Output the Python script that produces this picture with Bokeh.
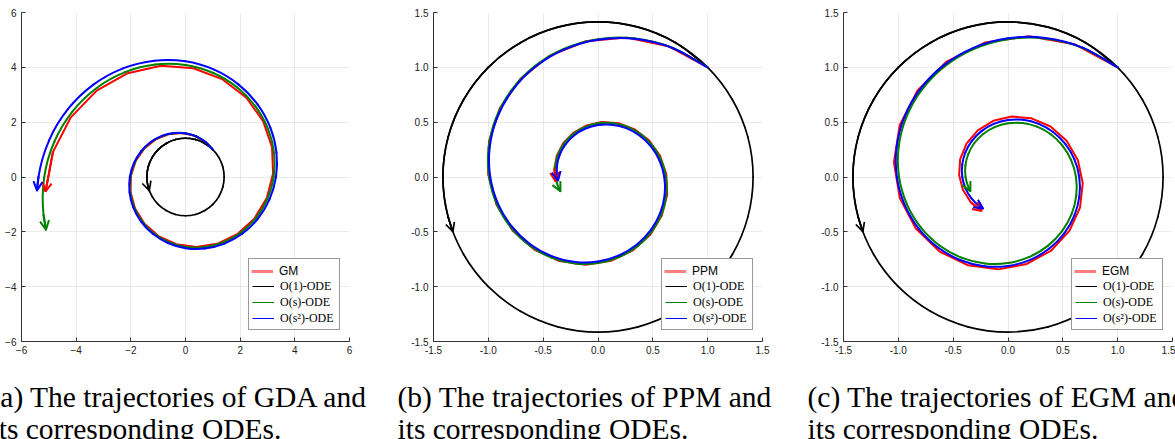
import numpy as np
from bokeh.plotting import figure
from bokeh.layouts import row, column
from bokeh.models import (Range1d, Legend, LegendItem, Arrow, OpenHead,
                          FixedTicker, PrintfTickFormatter)
from bokeh.core.properties import value
from bokeh.embed import file_html
from bokeh.resources import INLINE

# ---------------- data: trajectories in polar form (angle in degrees, radius) ----------------
# discrete iterates (GM / PPM share the same angles)
disc_ang = [45.0, 61.70, 78.40, 95.10, 111.80, 128.50, 145.20, 161.89, 178.59, 195.29, 211.99,
            228.69, 245.39, 262.09, 278.79, 295.49, 312.19, 328.89, 345.59, 362.29, 378.98,
            395.68, 412.38, 429.08, 445.78, 462.48, 479.18, 495.88, 512.58, 529.28, 545.98]
gm_r = [1.4142, 1.4765, 1.5415, 1.6094, 1.6802, 1.7542, 1.8314, 1.9121, 1.9963, 2.0842, 2.1759,
        2.2718, 2.3718, 2.4762, 2.5852, 2.6991, 2.8179, 2.9420, 3.0715, 3.2068, 3.3480,
        3.4954, 3.6493, 3.8100, 3.9777, 4.1529, 4.3357, 4.5266, 4.7259, 4.9340, 5.1512]
ppm_r = [1.4142, 1.3546, 1.2974, 1.2427, 1.1903, 1.1401, 1.0920, 1.0460, 1.0019, 0.9596, 0.9191,
         0.8804, 0.8433, 0.8077, 0.7736, 0.7410, 0.7097, 0.6798, 0.6511, 0.6237, 0.5974,
         0.5722, 0.5481, 0.5249, 0.5028, 0.4816, 0.4613, 0.4418, 0.4232, 0.4054, 0.3883]
egm_ang = [45.0, 63.25, 81.49, 99.74, 117.98, 136.23, 154.48, 172.72, 190.97, 209.21, 227.46,
           245.70, 263.95, 282.20, 300.44, 318.69, 336.93, 355.18, 373.43, 391.67, 409.92,
           428.16, 446.41, 464.66, 482.90, 501.15, 519.39, 537.64, 555.89, 574.13, 592.38]
egm_r = [1.4142, 1.3551, 1.2984, 1.2441, 1.1921, 1.1422, 1.0944, 1.0487, 1.0048, 0.9628, 0.9225,
         0.8839, 0.8469, 0.8115, 0.7776, 0.7451, 0.7139, 0.6840, 0.6554, 0.6280, 0.6018,
         0.5766, 0.5525, 0.5294, 0.5072, 0.4860, 0.4657, 0.4462, 0.4275, 0.4097, 0.3925]

# ODE curves (smooth)
ode_ang_a = [45, 60, 75, 90, 105, 120, 135, 150, 165, 180, 195, 210, 225, 240, 255, 270, 285,
             300, 315, 330, 345, 360, 375, 390, 405, 420, 435, 450, 465, 480, 495, 510, 525,
             540, 555, 560.66]
o1_radius = 1.4142
gda_os_r = [1.4142, 1.4709, 1.5298, 1.5910, 1.6548, 1.7210, 1.7900, 1.8616, 1.9362, 2.0138,
            2.0944, 2.1783, 2.2655, 2.3563, 2.4506, 2.5488, 2.6509, 2.7571, 2.8675, 2.9823,
            3.1018, 3.2260, 3.3552, 3.4896, 3.6293, 3.7747, 3.9259, 4.0831, 4.2467, 4.4167,
            4.5936, 4.7776, 4.9690, 5.1680, 5.3750, 5.4552]
ppm_os_r = [1.4142, 1.3598, 1.3074, 1.2570, 1.2086, 1.1621, 1.1173, 1.0743, 1.0329, 0.9932,
            0.9549, 0.9182, 0.8828, 0.8488, 0.8161, 0.7847, 0.7545, 0.7254, 0.6975, 0.6706,
            0.6448, 0.6200, 0.5961, 0.5731, 0.5511, 0.5298, 0.5094, 0.4898, 0.4710, 0.4528,
            0.4354, 0.4186, 0.4025, 0.3870, 0.3721, 0.3666]
ode_ang_b = [45, 60, 75, 90, 105, 120, 135, 150, 165, 180, 195, 210, 225, 240, 255, 270, 285,
             300, 315, 330, 345, 360, 375, 390, 405, 420, 435, 450, 465, 480, 495, 510, 525,
             540, 545.19]
gda_os2_r = [1.4142, 1.4726, 1.5335, 1.5968, 1.6628, 1.7315, 1.8030, 1.8775, 1.9551, 2.0359,
             2.1200, 2.2076, 2.2988, 2.3938, 2.4927, 2.5957, 2.7029, 2.8146, 2.9309, 3.0519,
             3.1780, 3.3093, 3.4461, 3.5884, 3.7367, 3.8911, 4.0518, 4.2192, 4.3935, 4.5751,
             4.7641, 4.9609, 5.1659, 5.3793, 5.4552]
ppm_os2_r = [1.4142, 1.3581, 1.3042, 1.2525, 1.2028, 1.1551, 1.1092, 1.0652, 1.0230, 0.9824,
             0.9434, 0.9060, 0.8700, 0.8355, 0.8024, 0.7705, 0.7399, 0.7106, 0.6824, 0.6553,
             0.6293, 0.6044, 0.5804, 0.5573, 0.5352, 0.5140, 0.4936, 0.4740, 0.4552, 0.4372,
             0.4198, 0.4032, 0.3872, 0.3718, 0.3666]
ode_ang_c = [45, 60, 75, 90, 105, 120, 135, 150, 165, 180, 195, 210, 225, 240, 255, 270, 285,
             300, 315, 330, 345, 360, 375, 390, 405, 420, 435, 450, 465, 480, 495, 510, 525,
             540, 555, 570, 585, 591.60]
egm_os2_r = [1.4142, 1.3628, 1.3132, 1.2655, 1.2194, 1.1751, 1.1323, 1.0912, 1.0515, 1.0132,
             0.9764, 0.9409, 0.9067, 0.8737, 0.8419, 0.8113, 0.7818, 0.7533, 0.7260, 0.6995,
             0.6741, 0.6496, 0.6260, 0.6032, 0.5813, 0.5601, 0.5398, 0.5201, 0.5012, 0.4830,
             0.4654, 0.4485, 0.4322, 0.4165, 0.4013, 0.3867, 0.3727, 0.3666]

method_names = ["GM", "PPM", "EGM"]
ode_labels = ["O(1)-ODE", "O(s)-ODE", "O(s\u00b2)-ODE"]
ticks_a = [-6, -4, -2, 0, 2, 4, 6]
ticks_bc = [-1.5, -1.0, -0.5, 0.0, 0.5, 1.0, 1.5]
captions_1 = ["(a) The trajectories of GDA and", "(b) The trajectories of PPM and",
              "(c) The trajectories of EGM and"]
captions_2 = ["its corresponding ODEs.", "its corresponding ODEs.", "its corresponding ODEs."]


def to_xy(ang, rad):
    a = np.deg2rad(np.asarray(ang, dtype=float))
    r = np.asarray(rad, dtype=float) * np.ones_like(a)
    return a, r * np.cos(a), r * np.sin(a)


def smooth_segments(u, xs, ys):
    """Cubic (Hermite -> Bezier) segments through the sample points, parameterised by angle."""
    P = np.column_stack([xs, ys])
    n = len(P)
    m = np.zeros_like(P)
    m[0] = (P[1] - P[0]) / (u[1] - u[0])
    m[-1] = (P[-1] - P[-2]) / (u[-1] - u[-2])
    for i in range(1, n - 1):
        h0, h1 = u[i] - u[i - 1], u[i + 1] - u[i]
        d0, d1 = (P[i] - P[i - 1]) / h0, (P[i + 1] - P[i]) / h1
        m[i] = (d0 * h1 + d1 * h0) / (h0 + h1)
    h = (u[1:] - u[:-1])[:, None]
    c0 = P[:-1] + m[:-1] * h / 3
    c1 = P[1:] - m[1:] * h / 3
    return dict(x0=P[:-1, 0], y0=P[:-1, 1], x1=P[1:, 0], y1=P[1:, 1],
                cx0=c0[:, 0], cy0=c0[:, 1], cx1=c1[:, 0], cy1=c1[:, 1])


AX = "#333333"


def make_panel(width, bl, br, lim, ticks, fmt, name, curves):
    frame_w = width - bl - br
    p = figure(width=width, height=368, x_range=Range1d(-lim, lim), y_range=Range1d(-lim, lim),
               output_backend="svg", toolbar_location=None,
               min_border_left=bl, min_border_right=br, min_border_top=12, min_border_bottom=27)
    p.outline_line_color = None
    p.background_fill_color = "white"
    p.border_fill_color = "white"
    tx = FixedTicker(ticks=ticks)
    ty = FixedTicker(ticks=ticks)
    p.xaxis.ticker = tx
    p.yaxis.ticker = ty
    p.xgrid.ticker = tx
    p.ygrid.ticker = ty
    if fmt is not None:
        p.xaxis.formatter = PrintfTickFormatter(format=fmt)
        p.yaxis.formatter = PrintfTickFormatter(format=fmt)
    for ax in (p.xaxis, p.yaxis):
        ax.axis_line_color = AX
        ax.axis_line_width = 1
        ax.major_tick_line_color = AX
        ax.major_tick_in = 4
        ax.major_tick_out = 0
        ax.minor_tick_line_color = None
        ax.major_label_text_font = "Liberation Sans"
        ax.major_label_text_font_size = "10px"
        ax.major_label_text_color = "#222222"
    p.xaxis.major_label_standoff = 4
    p.yaxis.major_label_standoff = 5
    p.grid.grid_line_color = "black"
    p.grid.grid_line_alpha = 0.08
    p.grid.grid_line_width = 1

    for kind, (u, xs, ys), c, w in curves:
        if kind == "discrete":
            p.line(xs, ys, line_color=c, line_width=w, line_join="round")
        else:
            p.bezier(line_color=c, line_width=w, line_cap="round",
                     **smooth_segments(u, xs, ys))
    for kind, (u, xs, ys), c, w in curves:
        p.add_layout(Arrow(end=OpenHead(size=9, line_color=c, line_width=w),
                           x_start=float(xs[-2]), y_start=float(ys[-2]),
                           x_end=float(xs[-1]), y_end=float(ys[-1]),
                           line_color=c, line_width=w))

    # legend: two overlaid legends so that the method name can use a sans font
    far = [lim * 10]
    d_hidden = p.line(far, far, line_alpha=0)
    d_red = p.line(far, far, line_color="red", line_alpha=0.5, line_width=3)
    d_blk = p.line(far, far, line_color="black", line_width=1)
    d_grn = p.line(far, far, line_color="green", line_width=1)
    d_blu = p.line(far, far, line_color="blue", line_width=1)
    row_h, pad, lw = 16, 3, 90
    lx = frame_w - 11 - lw
    common = dict(glyph_width=22, glyph_height=row_h, label_height=row_h, label_standoff=6,
                  label_width=56, padding=pad, spacing=0, margin=0,
                  label_text_font_size="12px", label_text_color="black")
    legA = Legend(items=[LegendItem(label=" ", renderers=[d_hidden]),
                         LegendItem(label=ode_labels[0], renderers=[d_blk]),
                         LegendItem(label=ode_labels[1], renderers=[d_grn]),
                         LegendItem(label=ode_labels[2], renderers=[d_blu])],
                  location=(lx, 11), border_line_color=AX, border_line_width=1,
                  background_fill_color="white", background_fill_alpha=1.0,
                  label_text_font="Liberation Serif", **common)
    legB = Legend(items=[LegendItem(label=name, renderers=[d_red])],
                  location=(lx, 11 + 3 * row_h), border_line_alpha=0, background_fill_alpha=0,
                  label_text_font="Liberation Sans", **common)
    p.add_layout(legA)
    p.add_layout(legB)
    return p


cur_a = [("discrete", to_xy(disc_ang, gm_r), "red", 2),
         ("ode", to_xy(ode_ang_a, o1_radius), "black", 1.7),
         ("ode", to_xy(ode_ang_a, gda_os_r), "green", 2),
         ("ode", to_xy(ode_ang_b, gda_os2_r), "blue", 2)]
cur_b = [("discrete", to_xy(disc_ang, ppm_r), "red", 2),
         ("ode", to_xy(ode_ang_a, o1_radius), "black", 1.7),
         ("ode", to_xy(ode_ang_a, ppm_os_r), "green", 2),
         ("ode", to_xy(ode_ang_b, ppm_os2_r), "blue", 2)]
cur_c = [("discrete", to_xy(egm_ang, egm_r), "red", 2),
         ("ode", to_xy(ode_ang_a, o1_radius), "black", 1.7),
         ("ode", to_xy(ode_ang_a, ppm_os_r), "green", 2),
         ("ode", to_xy(ode_ang_c, egm_os2_r), "blue", 2)]

pa = make_panel(391, 21, 42, 6, ticks_a, None, method_names[0], cur_a)
pb = make_panel(409, 42, 38, 1.5, ticks_bc, "%.1f", method_names[1], cur_b)
pc = make_panel(375, 43, 3, 1.5, ticks_bc, "%.1f", method_names[2], cur_c)

cap = figure(width=1175, height=71, x_range=Range1d(0, 1175), y_range=Range1d(71, 0),
             output_backend="svg", toolbar_location=None, x_axis_type=None, y_axis_type=None,
             min_border=0)
cap.outline_line_color = None
cap.grid.visible = False
cap_x = [-10, 397, 807]
cap.text(x=cap_x + cap_x, y=[28.2] * 3 + [60.0] * 3, text=captions_1 + captions_2,
         text_font=value("Liberation Serif"), text_font_size="29.5px",
         text_baseline="alphabetic", text_align="left", text_color="black")

layout = column(row(pa, pb, pc), cap)
open("out.html", "w").write(file_html(layout, INLINE))
